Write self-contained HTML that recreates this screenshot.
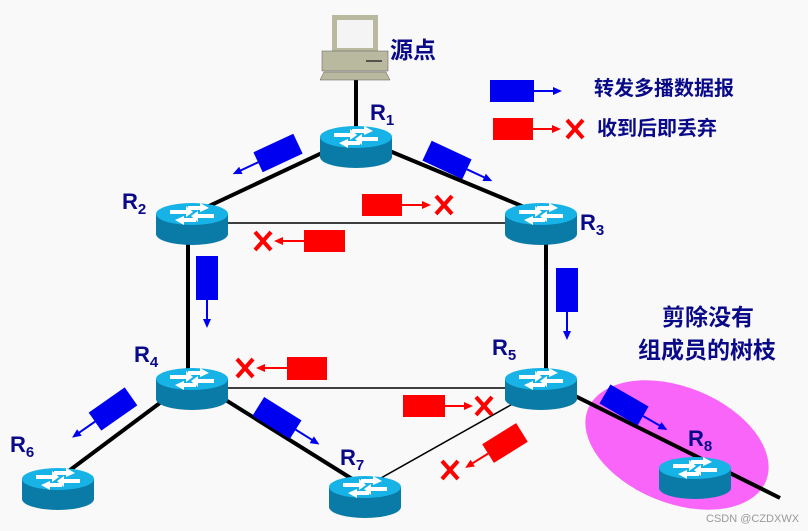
<!DOCTYPE html>
<html><head><meta charset="utf-8"><style>
html,body{margin:0;padding:0;background:#f9f9f9}
svg{display:block}
text{font-family:"Liberation Sans","Noto Sans CJK SC",sans-serif;font-weight:bold;fill:#0a0a88}
</style></head><body>
<svg width="808" height="531" viewBox="0 0 808 531" xmlns="http://www.w3.org/2000/svg">
<defs>
<g id="rt">
  <path d="M-36,0 L-36,20 A36,11 0 0 0 36,20 L36,0 Z" fill="#0a7aa6"/>
  <ellipse cx="0" cy="0" rx="36" ry="11" fill="#17b3e6"/>
  <g fill="#fff">
    <polygon points="-22,-4 -6,-4 -6,-8 1,-2 -6,3 -6,0 -22,0"/>
    <polygon points="22,4 6,4 6,8 -1,2 6,-3 6,0 22,0"/>
    <polygon points="-4,-8 8,-8 8,-11 17,-6 8,-2 8,-4 -4,-4"/>
    <polygon points="4,8 -8,8 -8,11 -17,6 -8,2 -8,4 4,4"/>
  </g>
</g>
<g id="bp"><rect x="-22" y="-11" width="44" height="22" fill="#0000f0"/><line x1="22" y1="0" x2="44" y2="0" stroke="#0000f0" stroke-width="2"/><polygon points="50,0 41,-4 41,4" fill="#0000f0"/></g>
<g id="rx"><path d="M-8,-9 L8,9 M8,-9 L-8,9" stroke="#f00" stroke-width="4"/></g>
</defs>
<ellipse cx="677" cy="445" rx="96" ry="58" transform="rotate(22 677 445)" fill="#f865f8"/>
<g stroke="#000" stroke-width="4" fill="none">
<line x1="356" y1="80" x2="356" y2="130"/>
<line x1="356" y1="137" x2="192" y2="214"/>
<line x1="356" y1="137" x2="541" y2="214"/>
<line x1="188" y1="214" x2="188" y2="379"/>
<line x1="546" y1="214" x2="546" y2="379"/>
<line x1="192" y1="379" x2="58" y2="479"/>
<line x1="192" y1="379" x2="365" y2="487"/>
<line x1="541" y1="379" x2="780" y2="498"/>
</g>
<g stroke="#000" stroke-width="1.5">
<line x1="192" y1="223" x2="541" y2="223"/>
<line x1="192" y1="388" x2="541" y2="388"/>
<line x1="541" y1="388" x2="365" y2="487"/>
</g>
<g>
<rect x="332" y="15" width="46" height="38" fill="#b9b99f"/>
<rect x="337" y="20" width="36" height="28" fill="#f4f4f4"/>
<rect x="322" y="51" width="66" height="20" fill="#b9b99f" stroke="#555" stroke-width="0.5"/>
<line x1="366" y1="61" x2="382" y2="61" stroke="#333" stroke-width="1.5"/>
<polygon points="324,72 386,72 390,80 320,80" fill="#b9b99f" stroke="#555" stroke-width="0.5"/>
</g>
<use href="#rt" x="356" y="137"/>
<use href="#rt" x="192" y="214"/>
<use href="#rt" x="541" y="214"/>
<use href="#rt" x="192" y="379"/>
<use href="#rt" x="541" y="379"/>
<use href="#rt" x="58" y="479"/>
<use href="#rt" x="365" y="487"/>
<use href="#rt" x="695" y="468"/>
<use href="#bp" transform="translate(278,153) rotate(155)"/>
<use href="#bp" transform="translate(447,160) rotate(25)"/>
<use href="#bp" transform="translate(207,278) rotate(90)"/>
<use href="#bp" transform="translate(567,290) rotate(90)"/>
<use href="#bp" transform="translate(113,409) rotate(145)"/>
<use href="#bp" transform="translate(277,418) rotate(32)"/>
<use href="#bp" transform="translate(624,405) rotate(30)"/>
<use href="#bp" transform="translate(512,91)"/>
<g fill="#f00" stroke="#f00">
<rect x="362" y="194" width="40" height="22" stroke="none"/><line x1="402" y1="205" x2="424" y2="205" stroke-width="2"/><polygon points="431,205 422,201 422,209" stroke="none"/>
<rect x="304" y="230" width="41" height="22" stroke="none"/><line x1="304" y1="241" x2="282" y2="241" stroke-width="2"/><polygon points="274,241 283,237 283,245" stroke="none"/>
<rect x="287" y="357" width="40" height="23" stroke="none"/><line x1="287" y1="368" x2="264" y2="368" stroke-width="2"/><polygon points="256,368 265,364 265,372" stroke="none"/>
<rect x="403" y="395" width="42" height="22" stroke="none"/><line x1="445" y1="406" x2="466" y2="406" stroke-width="2"/><polygon points="473,406 464,402 464,410" stroke="none"/>
<rect x="493" y="118" width="40" height="22" stroke="none"/><line x1="533" y1="129" x2="554" y2="129" stroke-width="2"/><polygon points="561,129 552,125 552,133" stroke="none"/>
<g transform="translate(505,443) rotate(148)"><rect x="-20" y="-11" width="40" height="22" stroke="none"/><line x1="20" y1="0" x2="40" y2="0" stroke-width="2"/><polygon points="47,0 38,-4 38,4" stroke="none"/></g>
</g>
<use href="#rx" x="444" y="205"/>
<use href="#rx" x="263" y="241"/>
<use href="#rx" x="245" y="368"/>
<use href="#rx" x="484" y="406"/>
<use href="#rx" x="575" y="129"/>
<use href="#rx" x="450" y="470"/>
<text x="390" y="58" font-size="23">源点</text>
<text x="370" y="120" font-size="22">R<tspan font-size="15" dy="5">1</tspan></text>
<text x="122" y="209" font-size="22">R<tspan font-size="15" dy="5">2</tspan></text>
<text x="580" y="230" font-size="22">R<tspan font-size="15" dy="5">3</tspan></text>
<text x="134" y="362" font-size="22">R<tspan font-size="15" dy="5">4</tspan></text>
<text x="492" y="355" font-size="22">R<tspan font-size="15" dy="5">5</tspan></text>
<text x="10" y="452" font-size="22">R<tspan font-size="15" dy="5">6</tspan></text>
<text x="340" y="465" font-size="22">R<tspan font-size="15" dy="5">7</tspan></text>
<text x="688" y="446" font-size="22">R<tspan font-size="15" dy="5">8</tspan></text>
<text x="594" y="95" font-size="20">转发多播数据报</text>
<text x="597" y="135" font-size="20">收到后即丢弃</text>
<text x="662" y="325" font-size="23">剪除没有</text>
<text x="638" y="358" font-size="23">组成员的树枝</text>
<text x="706" y="522" font-size="11" style="font-weight:normal;fill:#999">CSDN @CZDXWX</text>
</svg>
</body></html>
